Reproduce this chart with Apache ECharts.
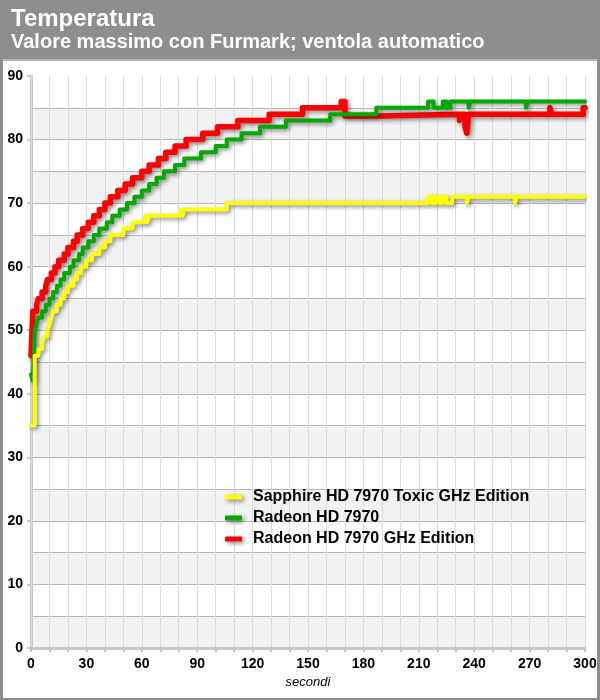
<!DOCTYPE html>
<html><head><meta charset="utf-8">
<script src="https://cdn.jsdelivr.net/npm/echarts@6/dist/echarts.min.js"></script>
<style>
html,body{margin:0;padding:0;background:#8e8e8e;}
#wrap{position:relative;width:600px;height:700px;background:#8e8e8e;overflow:hidden;}
#panel{position:absolute;left:3px;top:59px;width:594px;height:637px;background:#fff;border-top:2px solid #b4b4b4;}
#chart{position:absolute;left:0;top:0;width:600px;height:700px;}
</style></head><body>
<div id="wrap"><div id="panel"></div><div id="chart"></div></div>
<script>
const titleText = 'Temperatura';
const subtitleText = 'Valore massimo con Furmark; ventola automatico';
const xName = 'secondi';
const seriesNames = ['Sapphire HD 7970 Toxic GHz Edition', 'Radeon HD 7970', 'Radeon HD 7970 GHz Edition'];
const seriesColors = ['#ffff00', '#00a800', '#ff0000'];
const xTickLabels = [0, 30, 60, 90, 120, 150, 180, 210, 240, 270, 300];
const yTickLabels = [0, 10, 20, 30, 40, 50, 60, 70, 80, 90];

// [seconds, °C] at each change of reading
const yellowSteps = [[0,35],[2,46],[4,47],[6,48],[7,49],[9,50],[10,51],[11,52],[12,53],[14,54],[16,55],[18,56],[20,57],[23,58],[25,59],[27,60],[30,61],[33,62],[37,63],[40,64],[43,65],[50,66],[55,67],[62,68],[63,67],[64,68],[81,69],[82,68],[83,69],[106,70],[215,71],[217,70],[219,71],[221,70],[223,71],[225,70],[228,71],[236,70],[237,71],[262,70],[263,71],[300,71]];
const greenSteps = [[0,43],[1,42],[2,50],[3,51],[4,52],[6,53],[8,54],[10,55],[12,56],[14,57],[16,58],[18,59],[21,60],[23,61],[26,62],[28,63],[31,64],[34,65],[37,66],[41,67],[44,68],[48,69],[52,70],[56,71],[60,72],[64,73],[68,74],[72,75],[78,76],[83,77],[92,78],[100,79],[106,80],[114,81],[124,82],[138,83],[162,84],[187,85],[215,86],[218,85],[223,86],[225,85],[227,86],[237,85],[238,86],[268,85],[269,86],[300,86]];
const redSteps = [[0,46],[1,53],[3,54],[4,55],[6,56],[8,57],[9,58],[11,59],[13,60],[15,61],[18,62],[20,63],[23,64],[25,65],[28,66],[31,67],[34,68],[37,69],[40,70],[43,71],[47,72],[51,73],[55,74],[60,75],[64,76],[69,77],[73,78],[78,79],[84,80],[93,81],[101,82],[112,83],[129,84],[147,85],[168,86],[170,83.7],[189,84],[232,83],[233,84],[235,82],[236,81],[237,84],[281,85],[282,84],[299,85],[300,85]];

const FONT = "'Liberation Sans', Arial, sans-serif";
const chart = echarts.init(document.getElementById('chart'), null, {renderer: 'canvas'});
const shadow = {shadowColor: 'rgba(0,0,0,0.45)', shadowBlur: 4, shadowOffsetX: 2, shadowOffsetY: 2};
function mk(idx, data, width, z) {
  return {
    name: seriesNames[idx], type: 'line', step: 'end', data: data,
    xAxisIndex: 0, yAxisIndex: 0, z: z,
    symbol: 'none', showSymbol: false,
    lineStyle: Object.assign({color: seriesColors[idx], width: width, cap: 'round', join: 'round'}, shadow),
    itemStyle: {color: seriesColors[idx]}
  };
}
chart.setOption({
  animation: false,
  backgroundColor: 'transparent',
  title: {
    text: titleText, subtext: subtitleText, left: 11, top: 7, padding: 0, itemGap: 1,
    textStyle: {color: '#fff', fontSize: 24, fontWeight: 'bold', fontFamily: FONT},
    subtextStyle: {color: '#fff', fontSize: 20, fontWeight: 'bold', fontFamily: FONT}
  },
  legend: {
    orient: 'vertical', left: 225, top: 489, padding: 0, itemGap: 5,
    itemWidth: 17, itemHeight: 5, icon: 'roundRect',
    data: [seriesNames[0], seriesNames[1], seriesNames[2]],
    itemStyle: shadow,
    textStyle: {color: '#000', fontSize: 16, fontWeight: 'bold', fontFamily: FONT, lineHeight: 16, padding: [0,0,0,6]}
  },
  grid: {left: 31, right: 15, top: 76, bottom: 52, containLabel: false},
  xAxis: {
    type: 'value', min: 0, max: 300, interval: 30,
    axisLine: {lineStyle: {color: '#c8c8c8', width: 3}},
    axisTick: {length: 4, lineStyle: {color: '#c8c8c8', width: 2}},
    minorTick: {show: true, splitNumber: 3, length: 4, lineStyle: {color: '#c8c8c8', width: 2}},
    axisLabel: {formatter: v => xTickLabels.includes(v) ? String(v) : '', color: '#000', fontSize: 14, fontWeight: 'bold', fontFamily: FONT, margin: 9},
    splitLine: {show: true, lineStyle: {color: '#dcdcdc', width: 1}},
    minorSplitLine: {show: true, lineStyle: {color: '#dcdcdc', width: 1}},
    name: xName, nameLocation: 'middle', nameGap: 28,
    nameTextStyle: {fontStyle: 'italic', fontSize: 13, color: '#000', fontFamily: FONT}
  },
  yAxis: [{
    type: 'value', min: 0, max: 90, interval: 5, z: -1,
    axisLine: {show: true, lineStyle: {color: '#c8c8c8', width: 3}},
    axisTick: {show: false}, axisLabel: {show: false},
    splitLine: {show: true, showMinLine: false, showMaxLine: false, lineStyle: {color: '#b4b4b4', width: 1}},
    splitArea: {show: true, areaStyle: {color: ['#f2f2f2', '#ffffff']}}
  }, {
    type: 'value', min: 0, max: 90, interval: 10, position: 'left',
    axisLine: {show: false},
    axisTick: {show: true, length: 4, lineStyle: {color: '#c8c8c8', width: 2}},
    axisLabel: {formatter: v => yTickLabels.includes(v) ? String(v) : '', color: '#000', fontSize: 14, fontWeight: 'bold', fontFamily: FONT, margin: 8},
    splitLine: {show: false}
  }],
  series: [
    mk(2, redSteps, 5.5, 2),
    mk(1, greenSteps, 4, 3),
    mk(0, yellowSteps, 4, 4)
  ]
});
</script>
</body></html>
